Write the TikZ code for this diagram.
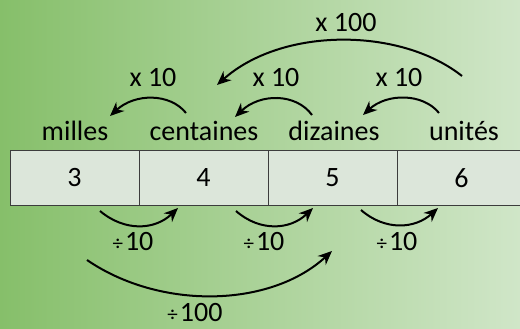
\documentclass[tikz,border=0pt]{standalone}
\usepackage{fontspec}
\setmainfont{Carlito}
\usetikzlibrary{arrows.meta}

\definecolor{fondg}{RGB}{134,191,106}
\definecolor{fondd}{RGB}{208,230,200}
\definecolor{case}{RGB}{220,230,218}
\definecolor{bord}{RGB}{60,60,60}

\newcommand{\divsym}{{\fontsize{21}{21}\selectfont ÷}\kern2pt}

\begin{document}
\begin{tikzpicture}[x=1pt,y=-1pt,
    cell/.style={rectangle, draw=bord, line width=0.8pt, fill=case, minimum width=129pt, minimum height=55pt, inner sep=0pt, font=\fontsize{28}{32}\selectfont},
    lbl/.style={anchor=base, inner sep=0pt, font=\fontsize{28}{32}\selectfont},
    fl/.style={-{Stealth[length=14pt,width=12pt]}, line width=2pt}
]
\useasboundingbox (0,0) rectangle (520,329);
\clip (0,0) rectangle (520,329);

% Fond
\shade[left color=fondg, right color=fondd] (0,0) rectangle (520,329);

% Tableau
\node[cell] (c3) at (74.5,178) {3};
\node[cell] (c4) at (203.5,178) {4};
\node[cell] (c5) at (332.5,178) {5};
\node[cell] (c6) at (461.5,178) {6};

% Noms des colonnes
\node[lbl] (milles) at (75,140) {milles};
\node[lbl] (centaines) at (204,140) {centaines};
\node[lbl] (dizaines) at (334,140) {dizaines};
\node[lbl] (unites) at (464,140) {unités};

% Multiplications
\node[lbl] (mul1) at (153,87) {x 10};
\node[lbl] (mul2) at (276,87) {x 10};
\node[lbl] (mul3) at (399,87) {x 10};
\node[lbl] (mul100) at (346,32) {x 100};

\coordinate (m1s) at (186,113); \coordinate (m1e) at (110,116);
\coordinate (m2s) at (312,115); \coordinate (m2e) at (235,117);
\coordinate (m3s) at (439,113); \coordinate (m3e) at (363,115);
\coordinate (m4s) at (462,76);  \coordinate (m4e) at (217,85);

\draw[fl] (m1s) .. controls (170,93) and (135,93) .. (m1e);
\draw[fl] (m2s) .. controls (296,93) and (260,93) .. (m2e);
\draw[fl] (m3s) .. controls (423,93) and (387,93) .. (m3e);
\draw[fl] (m4s) .. controls (400,27) and (282,27) .. (m4e);

% Divisions
\node[lbl] (div1) at (133,250) {\divsym 10};
\node[lbl] (div2) at (264,250) {\divsym 10};
\node[lbl] (div3) at (397,250) {\divsym 10};
\node[lbl] (div100) at (195,321) {\divsym 100};

\coordinate (d1s) at (100,211); \coordinate (d1e) at (178,208);
\coordinate (d2s) at (236,211); \coordinate (d2e) at (313,208);
\coordinate (d3s) at (361,210); \coordinate (d3e) at (438,208);
\coordinate (d4s) at (87,260);  \coordinate (d4e) at (332,251);

\draw[fl] (d1s) .. controls (125,232) and (155,230) .. (d1e);
\draw[fl] (d2s) .. controls (260,232) and (290,230) .. (d2e);
\draw[fl] (d3s) .. controls (385,231) and (415,229) .. (d3e);
\draw[fl] (d4s) .. controls (160,310) and (270,308) .. (d4e);

\end{tikzpicture}
\end{document}
